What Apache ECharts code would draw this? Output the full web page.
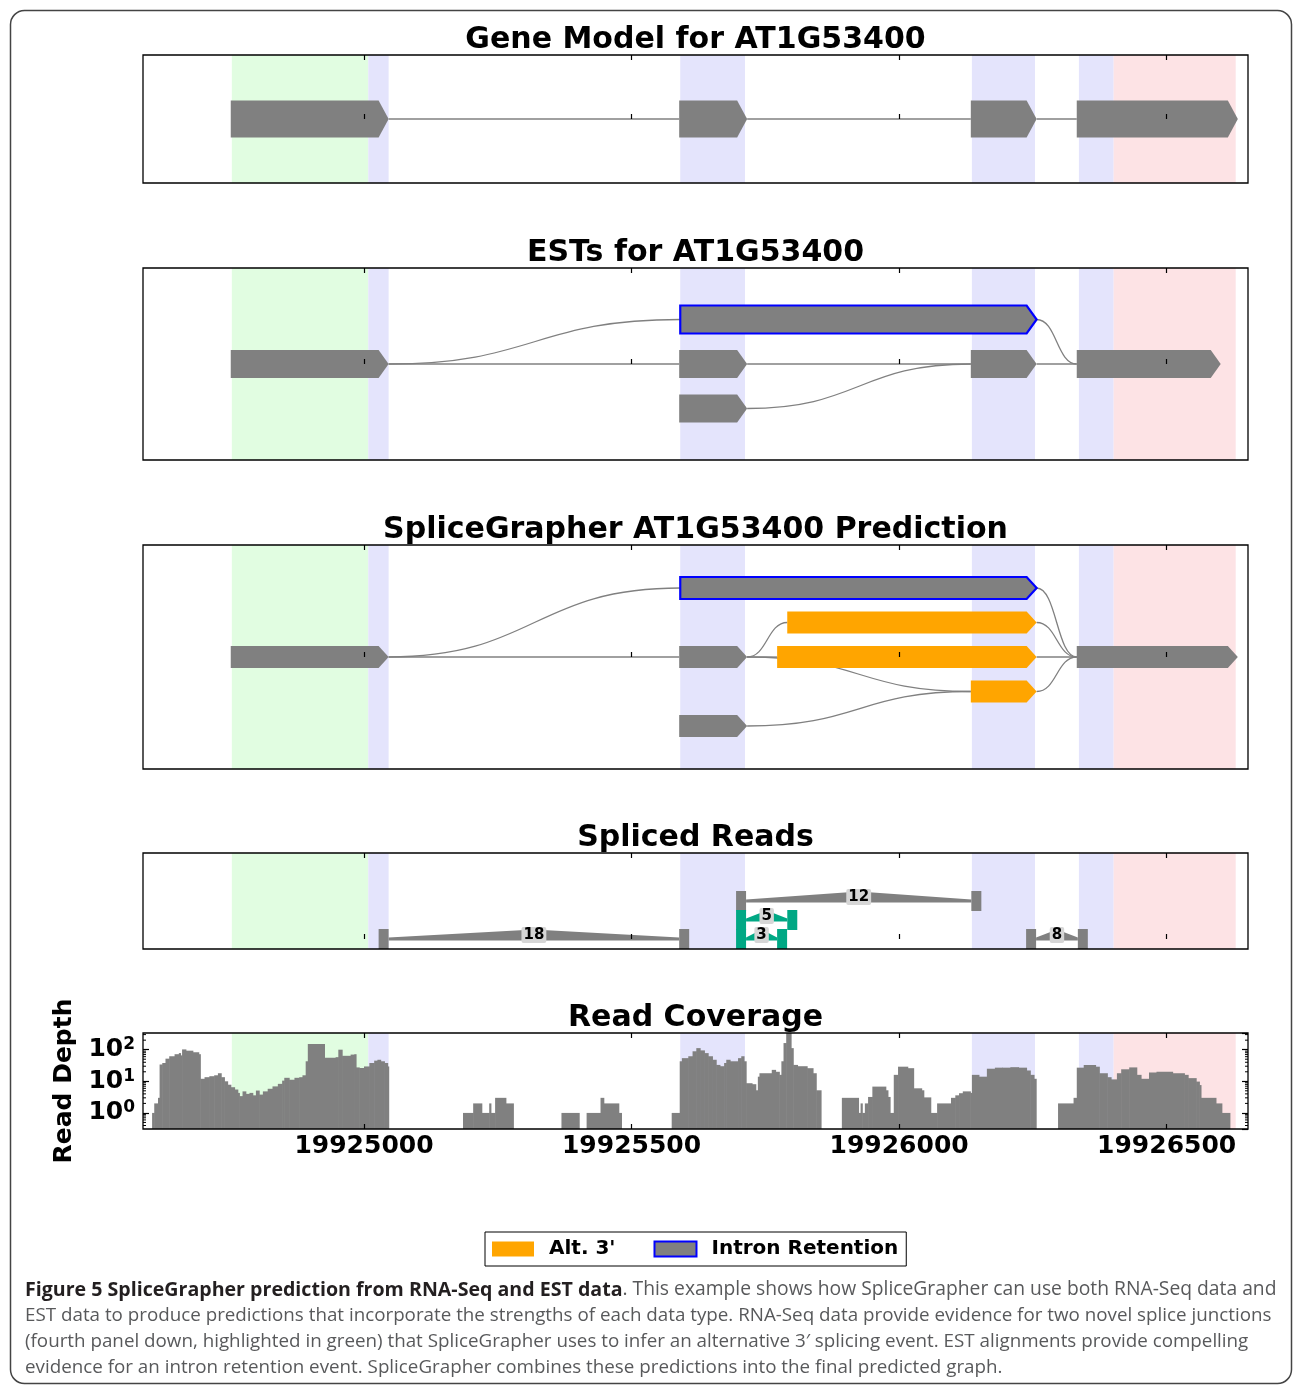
<!DOCTYPE html>
<html>
<head>
<meta charset="utf-8">
<script src="https://cdn.jsdelivr.net/npm/echarts@6/dist/echarts.min.js"></script>
<style>
html,body{margin:0;padding:0;background:#fff}
#chart{width:1293px;height:1386px}
</style>
</head>
<body>
<div id="chart"></div>
<script>
// ---------------- data ----------------
const X_MIN = 19924587, X_MAX = 19926652;
const DEPTH_MIN = 0.31, DEPTH_MAX = 337;
const tickValues = [19925000, 19925500, 19926000, 19926500];
const depthMinorTicks = [0.4,0.5,0.6,0.7,0.8,0.9,2,3,4,5,6,7,8,9,20,30,40,50,60,70,80,90,200,300];

const panelTitles = ['Gene Model for AT1G53400', 'ESTs for AT1G53400',
  'SpliceGrapher AT1G53400 Prediction', 'Spliced Reads', 'Read Coverage'];

// [start, end, kind]
const shadedRegions = [
  [19924753, 19925008, 'green'],
  [19925008, 19925046, 'blue'],
  [19925591, 19925712, 'blue'],
  [19926136, 19926254, 'blue'],
  [19926336, 19926401, 'blue'],
  [19926401, 19926629, 'pink']
];

// exons: [start, end, row, kind]
const geneModelExons = [
  [19924751, 19925046, 0, 'exon'],
  [19925589, 19925716, 0, 'exon'],
  [19926134, 19926257, 0, 'exon'],
  [19926332, 19926633, 0, 'exon']
];
// edges: [fromPos, fromRow, toPos, toRow]
const geneModelEdges = [
  [19925046, 0, 19925589, 0],
  [19925716, 0, 19926134, 0],
  [19926257, 0, 19926332, 0]
];

const estExons = [
  [19925591, 19926257, 1, 'ir'],
  [19924751, 19925046, 0, 'exon'],
  [19925589, 19925716, 0, 'exon'],
  [19926134, 19926257, 0, 'exon'],
  [19926332, 19926601, 0, 'exon'],
  [19925589, 19925716, -1, 'exon']
];
const estEdges = [
  [19925046, 0, 19925591, 1],
  [19925046, 0, 19925589, 0],
  [19925716, 0, 19926134, 0],
  [19926257, 0, 19926332, 0],
  [19926257, 1, 19926332, 0],
  [19925716, -1, 19926134, 0]
];

const predictionExons = [
  [19925591, 19926257, 2, 'ir'],
  [19925791, 19926257, 1, 'alt3'],
  [19924751, 19925046, 0, 'exon'],
  [19925589, 19925716, 0, 'exon'],
  [19925772, 19926257, 0, 'alt3'],
  [19926332, 19926633, 0, 'exon'],
  [19926134, 19926257, -1, 'alt3'],
  [19925589, 19925716, -2, 'exon']
];
const predictionEdges = [
  [19925046, 0, 19925591, 2],
  [19925046, 0, 19925589, 0],
  [19925716, 0, 19925791, 1],
  [19925716, 0, 19925772, 0],
  [19925716, 0, 19926134, -1],
  [19925716, -2, 19926134, -1],
  [19926257, 2, 19926332, 0],
  [19926257, 1, 19926332, 0],
  [19926257, 0, 19926332, 0],
  [19926257, -1, 19926332, 0]
];

// spliced reads: [donor, acceptor, row, reads]
const splicedJunctions = [
  [19925046, 19925589, 0, 18],
  [19925714, 19926135, 2, 12],
  [19925714, 19925791, 1, 5],
  [19925714, 19925772, 0, 3],
  [19926256, 19926334, 0, 8]
];
const novelJunction = [false, false, true, true, false];

// read coverage runs: [from, to, depth]
const coverageRuns = [
  [19924604,19924608,1],[19924608,19924615,2],[19924615,19924618,3],[19924618,19924623,34],
  [19924623,19924629,38],[19924629,19924636,52],[19924636,19924646,62],[19924646,19924654,72],
  [19924654,19924657,78],[19924657,19924660,66],[19924660,19924667,102],[19924667,19924680,93],
  [19924680,19924691,83],[19924691,19924694,72],[19924694,19924702,12],[19924702,19924711,13.5],
  [19924711,19924720,14.5],[19924720,19924727,15.5],[19924727,19924733,18],[19924733,19924739,13.5],
  [19924739,19924745,10],[19924745,19924751,7.8],[19924751,19924758,6.5],[19924758,19924764,5.5],
  [19924764,19924767,4.3],[19924767,19924773,3.4],[19924773,19924779,4.8],[19924779,19924786,4],
  [19924786,19924792,4.3],[19924792,19924798,3.6],[19924798,19924804,5.1],[19924804,19924811,3.8],
  [19924811,19924820,4.8],[19924820,19924829,5.8],[19924829,19924839,6.9],[19924839,19924847,8.3],
  [19924847,19924851,10.5],[19924851,19924860,12.9],[19924860,19924870,11.2],[19924870,19924879,12.9],
  [19924879,19924885,13.5],[19924885,19924891,15.5],[19924891,19924895,43],[19924895,19924926,150],
  [19924926,19924947,56],[19924947,19924952,58],[19924952,19924959,100],[19924959,19924975,64],
  [19924975,19924982,70],[19924982,19924985,72],[19924985,19924991,27.5],[19924991,19925000,26.3],
  [19925000,19925010,29.5],[19925010,19925019,38],[19925019,19925025,45],[19925025,19925031,48],
  [19925031,19925038,43],[19925038,19925044,38],[19925044,19925046,29.5],

  [19925185,19925204,1],[19925204,19925220,2],[19925220,19925234,1],[19925234,19925237,2],
  [19925237,19925245,1],[19925245,19925265,3],[19925265,19925279,2],

  [19925369,19925402,1],[19925416,19925442,1],[19925442,19925448,3],[19925448,19925476,2],
  [19925476,19925481,1],

  [19925575,19925590,1],[19925590,19925594,43],[19925594,19925606,54],[19925606,19925614,62],
  [19925614,19925621,89],[19925621,19925628,112],[19925628,19925636,95],[19925636,19925643,78],
  [19925643,19925651,62],[19925651,19925658,48],[19925658,19925665,33],[19925665,19925673,30],
  [19925673,19925677,38],[19925677,19925684,48],[19925684,19925699,43],[19925699,19925705,54],
  [19925705,19925710,62],[19925710,19925714,43],[19925714,19925725,8.7],[19925725,19925732,8.1],
  [19925732,19925736,5.2],[19925736,19925739,14],[19925739,19925762,18],[19925762,19925769,23],
  [19925769,19925776,20],[19925776,19925780,16],[19925780,19925784,43],[19925784,19925789,162],
  [19925789,19925798,400],[19925798,19925802,112],[19925802,19925810,33],[19925810,19925828,30],
  [19925828,19925839,26],[19925839,19925845,18],[19925845,19925854,5.2],

  [19925893,19925924,3],[19925924,19925928,1],[19925928,19925931,2],[19925931,19925936,1],
  [19925936,19925942,2],[19925942,19925950,3.2],[19925950,19925975,6.8],[19925975,19925979,5.2],
  [19925979,19925983,3.2],[19925983,19925990,1],[19925990,19925998,16],[19925998,19926016,29],
  [19926016,19926027,26],[19926027,19926042,6],[19926042,19926046,5.2],[19926046,19926059,3.1],
  [19926059,19926071,1],[19926071,19926097,2],[19926097,19926105,3],[19926105,19926112,3.6],
  [19926112,19926119,4.2],[19926119,19926133,4.8],[19926133,19926136,4.3],[19926136,19926149,16],
  [19926149,19926164,14],[19926164,19926179,25],[19926179,19926193,27],[19926193,19926208,27],
  [19926208,19926223,28],[19926223,19926238,27],[19926238,19926245,22],[19926245,19926252,16],
  [19926252,19926256,12],

  [19926297,19926326,2],[19926326,19926332,3],[19926332,19926345,27],[19926345,19926367,33],
  [19926367,19926374,29],[19926374,19926389,18],[19926389,19926396,13.5],[19926396,19926407,11.5],
  [19926407,19926415,18],[19926415,19926430,24],[19926430,19926444,27.5],[19926444,19926452,16],
  [19926452,19926467,12],[19926467,19926481,19],[19926481,19926511,20],[19926511,19926533,18],
  [19926533,19926540,16],[19926540,19926555,12.6],[19926555,19926561,9.8],[19926561,19926564,7.6],
  [19926564,19926592,3],[19926592,19926603,2],[19926603,19926618,1]
];

const legendItems = ["Alt. 3'", 'Intron Retention'];
const captionBold = 'Figure 5 SpliceGrapher prediction from RNA-Seq and EST data';
const captionLines = [
  '. This example shows how SpliceGrapher can use both RNA-Seq data and',
  'EST data to produce predictions that incorporate the strengths of each data type. RNA-Seq data provide evidence for two novel splice junctions',
  '(fourth panel down, highlighted in green) that SpliceGrapher uses to infer an alternative 3\u2032 splicing event. EST alignments provide compelling',
  'evidence for an intron retention event. SpliceGrapher combines these predictions into the final predicted graph.'
];

// ---------------- styling / layout ----------------
const FONT = '"DejaVu Sans", "Liberation Sans", sans-serif';
const GRAY = '#808080', ORANGE = '#ffa500', BLUE = '#0000ff', GREEN = '#00a884';
const SHADE = { green: '#e1fde1', blue: '#e4e4fc', pink: '#fde3e5' };
const GRID_LEFT = 143, GRID_WIDTH = 1105;
const grids = [
  { top: 55, height: 128, yMin: -1, yMax: 1, exonH: 37 },
  { top: 268, height: 192, yMin: -2.157, yMax: 2.157, exonH: 28 },
  { top: 545, height: 224, yMin: -3.246, yMax: 3.246, exonH: 22 },
  { top: 853, height: 96, yMin: -0.526, yMax: 4.526 },
  { top: 1033, height: 96 }
];
const TIP = 10;

const chart = echarts.init(document.getElementById('chart'), null, { renderer: 'canvas' });

const gridOpts = grids.map(g => ({
  left: GRID_LEFT, width: GRID_WIDTH, top: g.top, height: g.height,
  show: true, borderColor: '#000', borderWidth: 1.3, backgroundColor: 'transparent', z: 10
}));

const xAxes = [];
grids.forEach((g, i) => {
  const base = {
    type: 'value', gridIndex: i, min: X_MIN, max: X_MAX, z: 10,
    splitLine: { show: false }, axisLine: { show: false },
    axisTick: { show: true, inside: true, length: 5, customValues: tickValues, lineStyle: { color: '#000', width: 1.2 } },
    axisLabel: { show: false }
  };
  xAxes.push(Object.assign({}, base, {
    position: 'bottom',
    axisLabel: i === 4 ? {
      show: true, customValues: tickValues, formatter: v => String(v), margin: 5,
      fontSize: 25, fontWeight: 'bold', fontFamily: FONT, color: '#000'
    } : { show: false }
  }));
  xAxes.push(Object.assign({}, base, { position: 'top' }));
});

const yAxes = grids.slice(0, 4).map((g, i) => ({
  type: 'value', gridIndex: i, min: g.yMin, max: g.yMax, show: false
}));
const depthLabel = {
  show: true, showMinLabel: false, showMaxLabel: false, margin: 8,
  formatter: v => '{b|10}{s|' + Math.round(Math.log10(v)) + '}',
  rich: {
    b: { fontSize: 25, fontWeight: 'bold', fontFamily: FONT, color: '#000' },
    s: { fontSize: 17, fontWeight: 'bold', fontFamily: FONT, color: '#000', verticalAlign: 'top', padding: [0, 0, 10, 0] }
  }
};
yAxes.push({
  type: 'log', logBase: 10, gridIndex: 4, min: DEPTH_MIN, max: DEPTH_MAX, position: 'left', z: 10,
  axisLine: { show: false }, splitLine: { show: false },
  axisTick: { show: true, inside: true, length: 6, lineStyle: { color: '#000', width: 1.2 } },
  axisLabel: depthLabel,
  name: 'Read Depth', nameLocation: 'middle', nameGap: 66,
  nameTextStyle: { fontSize: 25, fontWeight: 'bold', fontFamily: FONT, color: '#000' }
});
yAxes.push({
  type: 'log', logBase: 10, gridIndex: 4, min: DEPTH_MIN, max: DEPTH_MAX, position: 'right', z: 10,
  axisLine: { show: false }, splitLine: { show: false },
  axisTick: { show: true, inside: true, length: 6, lineStyle: { color: '#000', width: 1.2 } },
  axisLabel: { show: false }
});

const series = [];

// shading in all panels
grids.forEach((g, i) => {
  const yRef = i === 4 ? 1 : 0;
  series.push({
    type: 'custom', xAxisIndex: 2 * i, yAxisIndex: i, z: 1, silent: true,
    encode: { x: [0, 1] },
    data: shadedRegions.map(r => [r[0], r[1]]),
    renderItem(params, api) {
      const cs = params.coordSys;
      const a = api.coord([api.value(0), yRef]);
      const b = api.coord([api.value(1), yRef]);
      return { type: 'rect', shape: { x: a[0], y: cs.y, width: b[0] - a[0], height: cs.height },
        style: { fill: SHADE[shadedRegions[params.dataIndex][2]] } };
    }
  });
});

function edgeSeries(edges, panel) {
  return {
    type: 'custom', xAxisIndex: 2 * panel, yAxisIndex: panel, z: 2, silent: true,
    encode: { x: [0, 2], y: [1, 3] },
    data: edges,
    renderItem(params, api) {
      const a = api.coord([api.value(0), api.value(1)]);
      const b = api.coord([api.value(2), api.value(3)]);
      const mx = (a[0] + b[0]) / 2;
      return { type: 'bezierCurve',
        shape: { x1: a[0], y1: a[1], x2: b[0], y2: b[1], cpx1: mx, cpy1: a[1], cpx2: mx, cpy2: b[1] },
        style: { stroke: GRAY, lineWidth: 1.3, fill: null } };
    }
  };
}

function exonSeries(exons, kind, panel, name) {
  const h = grids[panel].exonH;
  const fill = kind === 'alt3' ? ORANGE : GRAY;
  const stroke = kind === 'ir' ? BLUE : null;
  const s = {
    type: 'custom', xAxisIndex: 2 * panel, yAxisIndex: panel, z: 3, silent: true,
    itemStyle: { color: fill },
    encode: { x: [0, 1], y: 2 },
    data: exons.filter(e => e[3] === kind).map(e => [e[0], e[1], e[2]]),
    renderItem(params, api) {
      const p1 = api.coord([api.value(0), api.value(2)]);
      const p2 = api.coord([api.value(1), api.value(2)]);
      const x1 = p1[0], x2 = p2[0], yc = p1[1];
      const t = Math.min(TIP, x2 - x1);
      return { type: 'polygon',
        shape: { points: [[x1, yc - h / 2], [x2 - t, yc - h / 2], [x2, yc], [x2 - t, yc + h / 2], [x1, yc + h / 2]] },
        style: stroke ? { fill, stroke, lineWidth: 2.2, lineJoin: 'miter' } : { fill } };
    }
  };
  if (name) s.name = name;
  return s;
}

[[geneModelExons, geneModelEdges], [estExons, estEdges], [predictionExons, predictionEdges]].forEach((pe, i) => {
  series.push(edgeSeries(pe[1], i));
  series.push(exonSeries(pe[0], 'exon', i));
  series.push(exonSeries(pe[0], 'alt3', i, legendItems[0]));
  series.push(exonSeries(pe[0], 'ir', i, legendItems[1]));
});

// spliced reads
series.push({
  type: 'custom', xAxisIndex: 6, yAxisIndex: 3, z: 3, silent: true,
  encode: { x: [0, 1], y: 2 },
  data: splicedJunctions,
  renderItem(params, api) {
    const color = novelJunction[params.dataIndex] ? GREEN : GRAY;
    const a = api.coord([api.value(0), api.value(2)]);
    const b = api.coord([api.value(1), api.value(2)]);
    const yc = a[1], xa = a[0], xb = b[0], xm = (xa + xb) / 2;
    return { type: 'group', children: [
      { type: 'rect', shape: { x: xa - 10, y: yc - 10, width: 10, height: 20 }, style: { fill: color } },
      { type: 'rect', shape: { x: xb, y: yc - 10, width: 10, height: 20 }, style: { fill: color } },
      { type: 'polygon', shape: { points: [[xa, yc + 1.5], [xa, yc - 1.5], [xm, yc - 9.5], [xb, yc - 1.5], [xb, yc + 1.5]] }, style: { fill: color } },
      { type: 'text', x: xm, y: yc - 4, z2: 10, style: {
        text: String(api.value(3)), font: 'bold 15px ' + FONT, fill: '#000', align: 'center', verticalAlign: 'middle',
        backgroundColor: '#d6d6d6', padding: [1, 2, 0, 2], borderRadius: 2 } }
    ] };
  }
});

// coverage
series.push({
  type: 'custom', xAxisIndex: 8, yAxisIndex: 4, z: 3, silent: true,
  encode: { x: [0, 1], y: 2 },
  data: coverageRuns,
  renderItem(params, api) {
    const cs = params.coordSys;
    const a = api.coord([api.value(0), api.value(2)]);
    const b = api.coord([api.value(1), DEPTH_MIN]);
    const top = Math.max(a[1], cs.y);
    return { type: 'rect', shape: { x: a[0], y: top, width: b[0] - a[0] + 0.6, height: b[1] - top },
      style: { fill: GRAY } };
  }
});
// minor log ticks
series.push({
  type: 'custom', xAxisIndex: 8, yAxisIndex: 4, z: 11, silent: true,
  encode: { x: 0, y: 1 },
  data: depthMinorTicks.map(v => [X_MIN, v]),
  renderItem(params, api) {
    const cs = params.coordSys;
    const y = api.coord([api.value(0), api.value(1)])[1];
    return { type: 'group', children: [
      { type: 'line', shape: { x1: cs.x, y1: y, x2: cs.x + 3, y2: y }, style: { stroke: '#000', lineWidth: 1 } },
      { type: 'line', shape: { x1: cs.x + cs.width - 3, y1: y, x2: cs.x + cs.width, y2: y }, style: { stroke: '#000', lineWidth: 1 } }
    ] };
  }
});

// ---------------- graphics: titles, caption, frame ----------------
const graphics = [];
graphics.push({ type: 'rect', shape: { x: 10.5, y: 10.5, width: 1281, height: 1373, r: 14 },
  style: { fill: null, stroke: '#444', lineWidth: 1.5 }, silent: true });
panelTitles.forEach((t, i) => {
  graphics.push({ type: 'text', x: GRID_LEFT + GRID_WIDTH / 2, y: grids[i].top - 15, silent: true,
    style: { text: t, font: 'bold 30px ' + FONT, fill: '#000', align: 'center', verticalAlign: 'middle' } });
});

const measureCtx = document.createElement('canvas').getContext('2d');
const CAP_FAMILY = '"Open Sans", "Noto Sans", sans-serif';
function textWidth(text, font) { measureCtx.font = font; return measureCtx.measureText(text).width; }
const capSize = Math.round(20 * 1250 / textWidth(captionLines[1], '20px ' + CAP_FAMILY) * 10) / 10;
// first line: bold lead spans x 25..623, rest runs to x 1278
const boldSize = Math.round(20 * 598 / textWidth(captionBold, 'bold 20px ' + CAP_FAMILY) * 10) / 10;
const restSize = Math.round(20 * 655 / textWidth(captionLines[0], '20px ' + CAP_FAMILY) * 10) / 10;
const capY = [1290, 1316, 1342, 1368];
captionLines.forEach((line, i) => {
  const el = { type: 'text', x: 25, y: capY[i], silent: true,
    style: { font: capSize + 'px ' + CAP_FAMILY, fill: '#58595b', align: 'left', verticalAlign: 'middle' } };
  if (i === 0) {
    el.style.text = '{b|' + captionBold + '}{r|' + line + '}';
    el.style.rich = {
      b: { fontSize: boldSize, fontWeight: 'bold', fontFamily: CAP_FAMILY, fill: '#231f20' },
      r: { fontSize: restSize, fontFamily: CAP_FAMILY, fill: '#58595b' }
    };
  } else {
    el.style.text = line;
  }
  graphics.push(el);
});

chart.setOption({
  animation: false,
  backgroundColor: '#fff',
  grid: gridOpts,
  xAxis: xAxes,
  yAxis: yAxes,
  legend: {
    left: 485, top: 1232, orient: 'horizontal', selectedMode: false,
    padding: [7, 8, 7, 7], itemGap: 38, itemWidth: 42, itemHeight: 15,
    borderColor: '#000', borderWidth: 1, backgroundColor: '#fff',
    textStyle: { fontSize: 20, fontWeight: 'bold', fontFamily: FONT, color: '#000', lineHeight: 18, padding: [0, 0, 0, 10] },
    data: [
      { name: legendItems[0], icon: 'rect', itemStyle: { color: ORANGE, borderWidth: 0 } },
      { name: legendItems[1], icon: 'rect', itemStyle: { color: GRAY, borderColor: BLUE, borderWidth: 2 } }
    ]
  },
  graphic: graphics,
  series
});
</script>
</body>
</html>
